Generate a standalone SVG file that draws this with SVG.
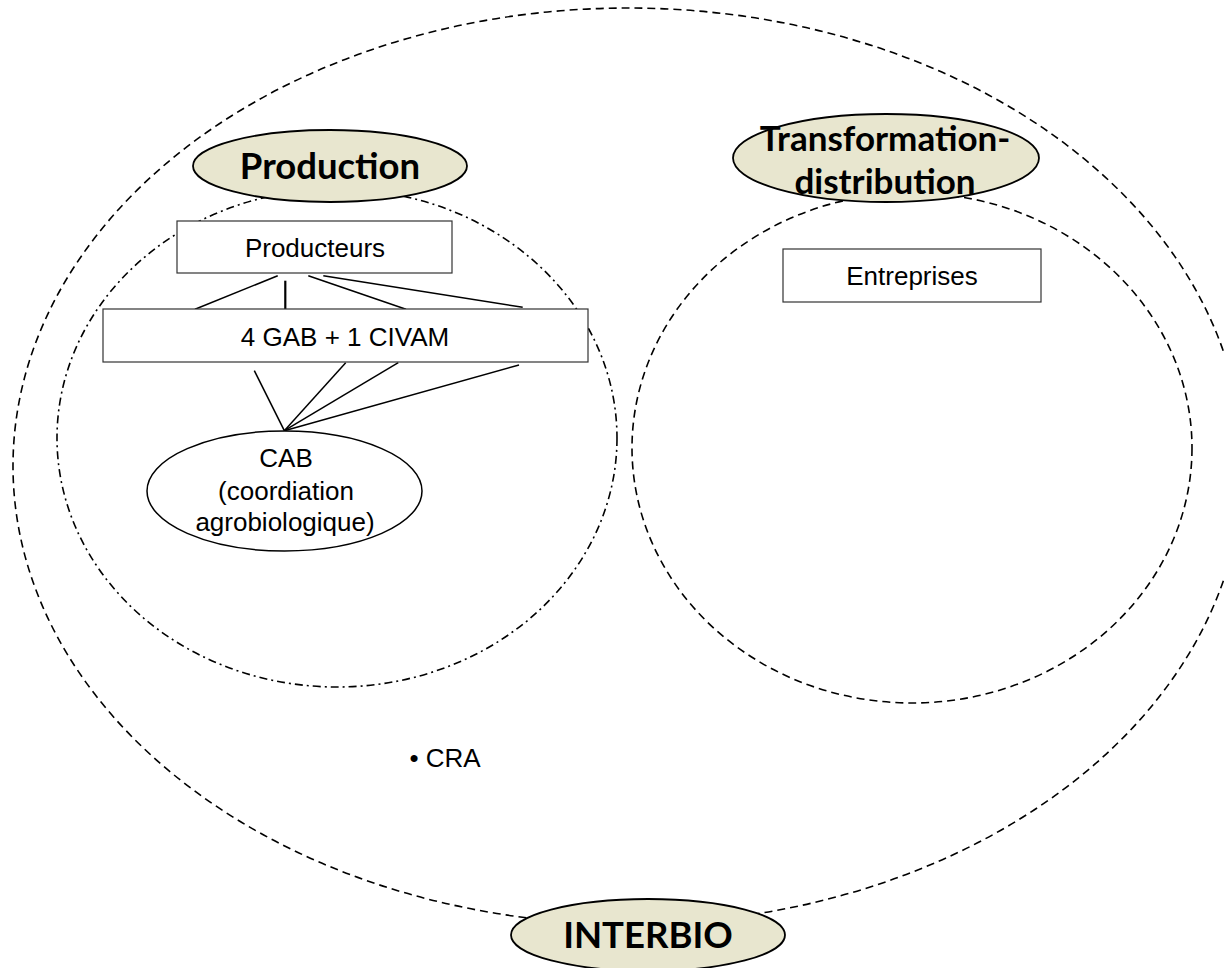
<svg xmlns="http://www.w3.org/2000/svg" width="1224" height="968" viewBox="0 0 1224 968">
<style>
.dash{fill:none;stroke:#000;stroke-width:1.6;stroke-dasharray:8 5}
.dashdot{fill:none;stroke:#000;stroke-width:1.6;stroke-dasharray:8 4 2 4}
.label{fill:#e8e6cf;stroke:#000;stroke-width:1.8}
.box{fill:#fff;stroke:#333;stroke-width:1.2}
.ell{fill:#fff;stroke:#000;stroke-width:1.5}
.lt{font-family:Lato,"Liberation Sans",sans-serif;font-weight:bold;font-size:36.5px;text-anchor:middle;fill:#000}
.t{font-family:"Liberation Sans",Arial,sans-serif;font-size:26px;text-anchor:middle;fill:#000}
.conn line{stroke:#000;stroke-width:1.5}
</style>
<rect width="1224" height="968" fill="#fff"/>
<g id="interbio-zone"><ellipse class="dash" cx="628" cy="466" rx="615" ry="458"/></g>
<g id="production-zone"><ellipse class="dashdot" cx="337" cy="438" rx="280" ry="249"/></g>
<g id="transformation-zone"><ellipse class="dash" cx="912" cy="448" rx="280" ry="255"/></g>
<g class="conn" id="connectors">
<line x1="277.7" y1="275.7" x2="195" y2="309.3"/>
<line x1="285.3" y1="280.7" x2="285.3" y2="309.3" style="stroke-width:2.2"/>
<line x1="308.3" y1="275.7" x2="406" y2="309.3"/>
<line x1="323.3" y1="275.7" x2="522.7" y2="307.3"/>
<line x1="254.3" y1="370.7" x2="284.3" y2="430.7"/>
<line x1="345.7" y1="362.7" x2="284.3" y2="430.7"/>
<line x1="398.3" y1="362.7" x2="284.3" y2="430.7"/>
<line x1="519" y1="365" x2="284.3" y2="430.7"/>
</g>
<g id="production"><ellipse class="label" cx="330" cy="166" rx="137" ry="36"/><text class="lt" x="330" y="179">Production</text></g>
<g id="transformation"><ellipse class="label" cx="886" cy="158" rx="153" ry="44"/><text class="lt" x="885" y="151" style="font-size:35px">Transformation-</text><text class="lt" x="885" y="194" style="font-size:35px">distribution</text></g>
<g id="interbio"><ellipse class="label" cx="648" cy="935" rx="137" ry="36"/><text class="lt" x="648" y="948">INTERBIO</text></g>
<g id="producteurs"><rect class="box" x="177" y="221" width="275" height="52"/><text class="t" x="315" y="257">Producteurs</text></g>
<g id="gab"><rect class="box" x="103" y="309" width="485" height="53"/><text class="t" x="345" y="346">4 GAB + 1 CIVAM</text></g>
<g id="cab"><ellipse class="ell" cx="284.5" cy="491" rx="137.5" ry="60"/><text class="t" x="286" y="467">CAB</text><text class="t" x="286" y="500">(coordiation</text><text class="t" x="285" y="531">agrobiologique)</text></g>
<g id="entreprises"><rect class="box" x="783" y="249" width="258" height="53"/><text class="t" x="912" y="285">Entreprises</text></g>
<g id="cra"><text class="t" x="445" y="767">• CRA</text></g>
</svg>
